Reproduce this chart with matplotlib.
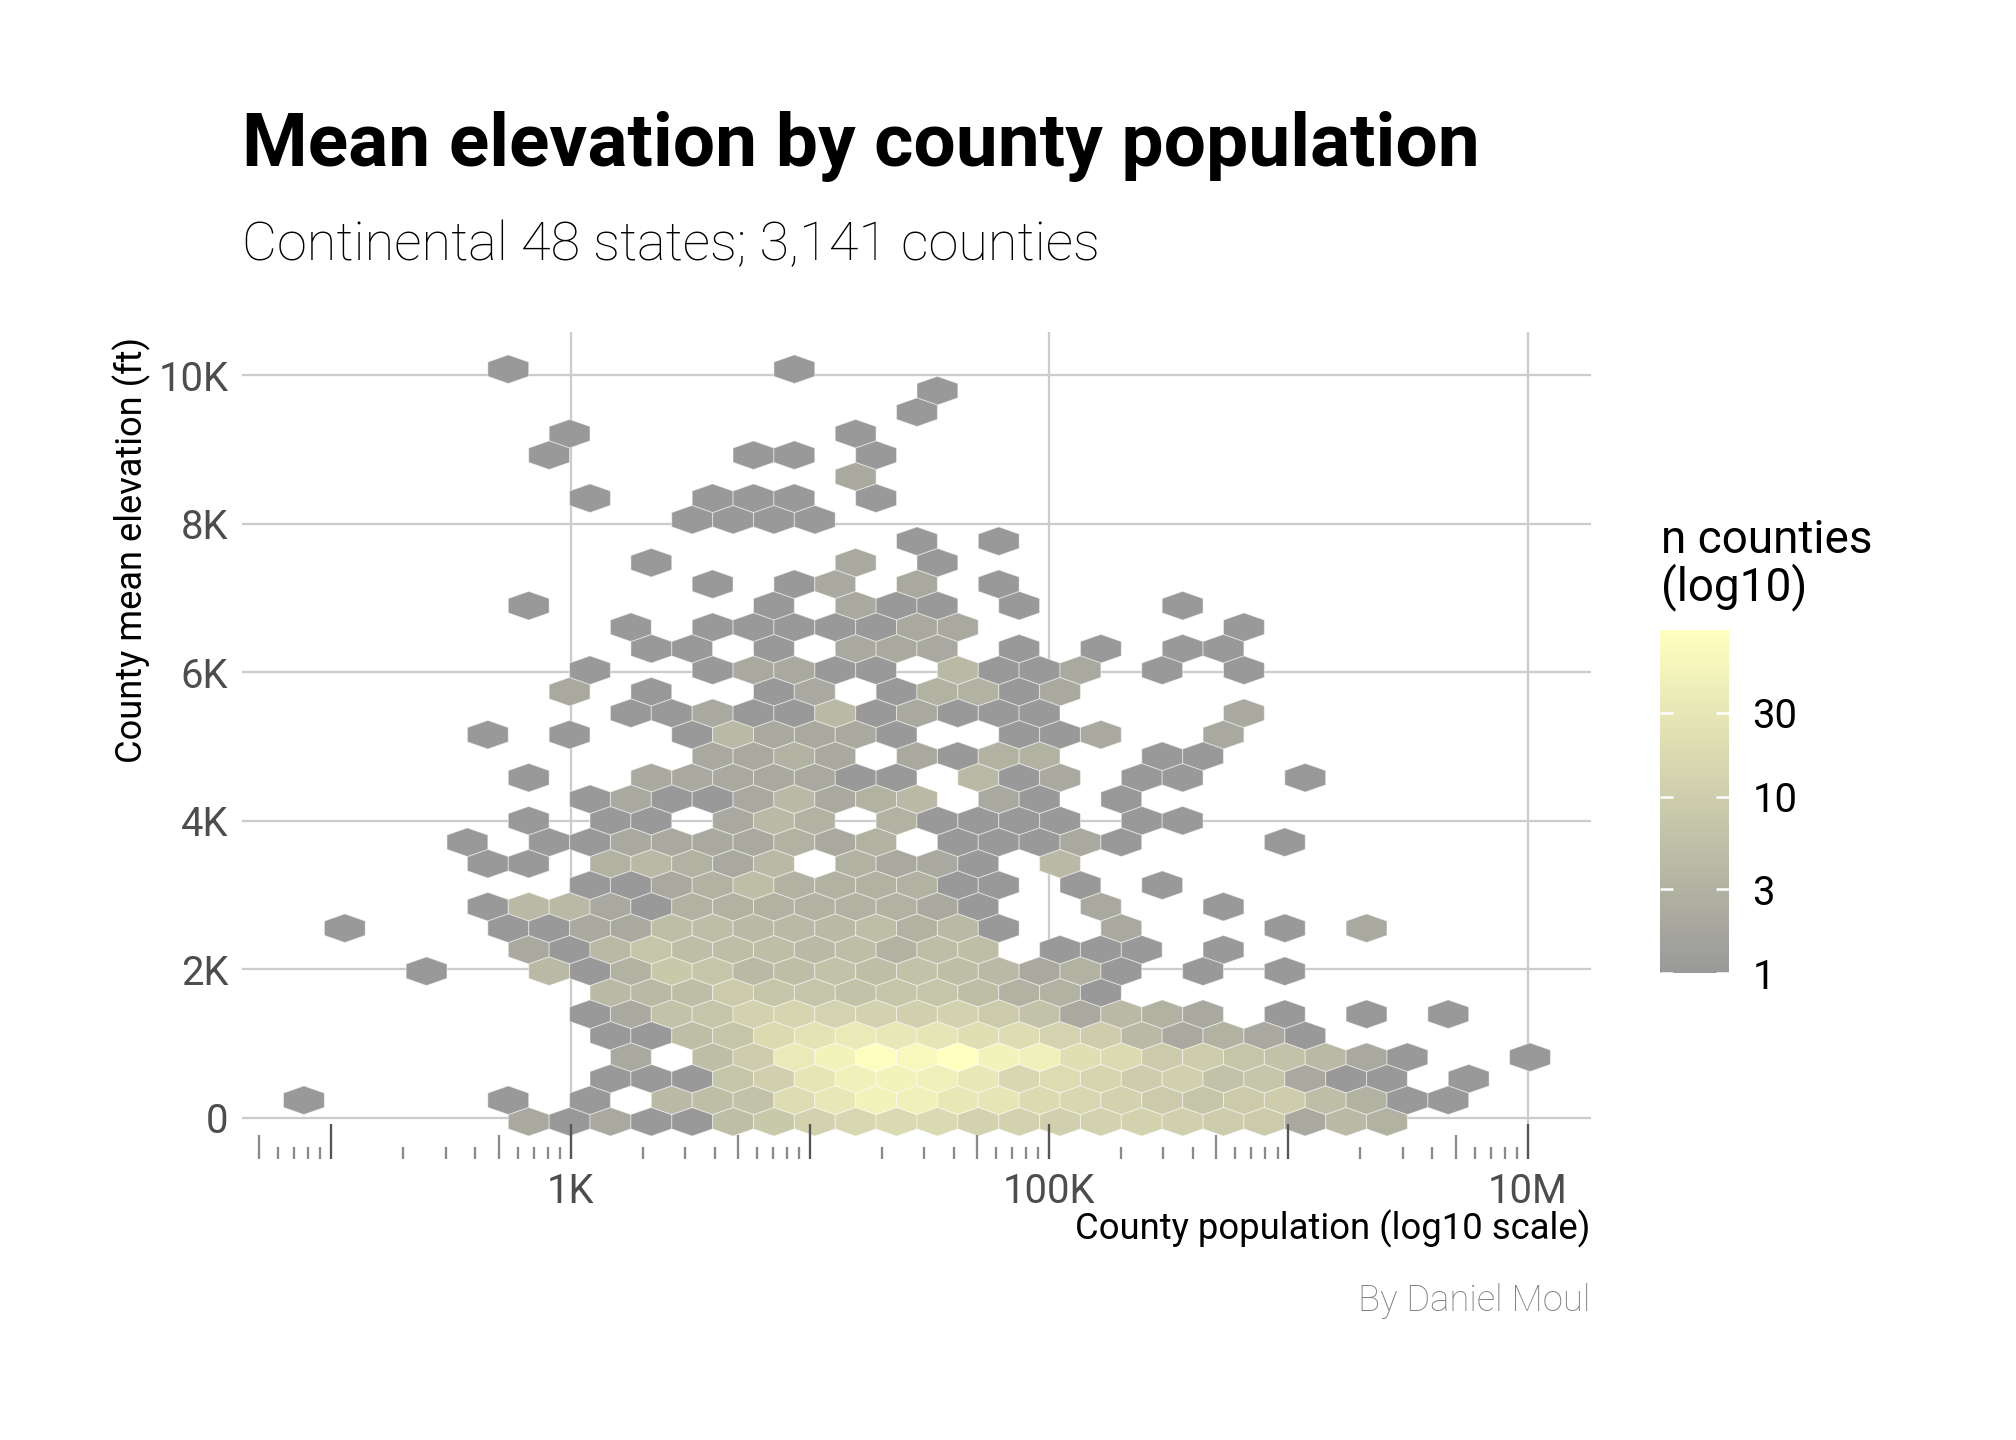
import numpy as np
import matplotlib
matplotlib.use("Agg")
import matplotlib.pyplot as plt
from matplotlib.colors import LogNorm, LinearSegmentedColormap
from matplotlib.transforms import blended_transform_factory

# ---------------- data: hex cells ----------------
# one entry per hex row: centre elevation (ft), centre log10(population) of each cell, counties per cell
row_elev_ft = [-54, 236, 525, 815, 1104, 1394, 1684, 1973, 2263, 2552, 2842, 3132,
               3421, 3711, 4000, 4290, 4580, 4869, 5159, 5448, 5738, 6028, 6317, 6607,
               6896, 7186, 7476, 7765, 8055, 8344, 8634, 8924, 9213, 9503, 9792, 10082]

row_pop_log10 = [
    [2.825, 2.995, 3.166, 3.337, 3.508, 3.679, 3.849, 4.020, 4.191, 4.362, 4.533, 4.704, 4.874, 5.045, 5.216, 5.387, 5.558, 5.728, 5.899, 6.070, 6.241, 6.412],
    [1.885, 2.739, 3.081, 3.422, 3.593, 3.764, 3.935, 4.106, 4.276, 4.447, 4.618, 4.789, 4.960, 5.131, 5.301, 5.472, 5.643, 5.814, 5.985, 6.156, 6.326, 6.497, 6.668],
    [3.166, 3.337, 3.508, 3.679, 3.849, 4.020, 4.191, 4.362, 4.533, 4.704, 4.874, 5.045, 5.216, 5.387, 5.558, 5.728, 5.899, 6.070, 6.241, 6.412, 6.753],
    [3.252, 3.593, 3.764, 3.935, 4.106, 4.276, 4.447, 4.618, 4.789, 4.960, 5.131, 5.301, 5.472, 5.643, 5.814, 5.985, 6.156, 6.326, 6.497, 7.010],
    [3.166, 3.337, 3.508, 3.679, 3.849, 4.020, 4.191, 4.362, 4.533, 4.704, 4.874, 5.045, 5.216, 5.387, 5.558, 5.728, 5.899, 6.070],
    [3.081, 3.252, 3.422, 3.593, 3.764, 3.935, 4.106, 4.276, 4.447, 4.618, 4.789, 4.960, 5.131, 5.301, 5.472, 5.643, 5.985, 6.326, 6.668],
    [3.166, 3.337, 3.508, 3.679, 3.849, 4.020, 4.191, 4.362, 4.533, 4.704, 4.874, 5.045, 5.216],
    [2.397, 2.910, 3.081, 3.252, 3.422, 3.593, 3.764, 3.935, 4.106, 4.276, 4.447, 4.618, 4.789, 4.960, 5.131, 5.301, 5.643, 5.985],
    [2.825, 2.995, 3.166, 3.337, 3.508, 3.679, 3.849, 4.020, 4.191, 4.362, 4.533, 4.704, 5.045, 5.216, 5.387, 5.728],
    [2.056, 2.739, 2.910, 3.081, 3.252, 3.422, 3.593, 3.764, 3.935, 4.106, 4.276, 4.447, 4.618, 4.789, 5.301, 5.985, 6.326],
    [2.654, 2.825, 2.995, 3.166, 3.337, 3.508, 3.679, 3.849, 4.020, 4.191, 4.362, 4.533, 4.704, 5.216, 5.728],
    [3.081, 3.252, 3.422, 3.593, 3.764, 3.935, 4.106, 4.276, 4.447, 4.618, 4.789, 5.131, 5.472],
    [2.654, 2.825, 3.166, 3.337, 3.508, 3.679, 3.849, 4.191, 4.362, 4.533, 4.704, 5.045],
    [2.568, 2.910, 3.081, 3.252, 3.422, 3.593, 3.764, 3.935, 4.106, 4.276, 4.618, 4.789, 4.960, 5.131, 5.301, 5.985],
    [2.825, 3.166, 3.337, 3.679, 3.849, 4.020, 4.362, 4.533, 4.704, 4.874, 5.045, 5.387, 5.558],
    [3.081, 3.252, 3.422, 3.593, 3.764, 3.935, 4.106, 4.276, 4.447, 4.789, 4.960, 5.301],
    [2.825, 3.337, 3.508, 3.679, 3.849, 4.020, 4.191, 4.362, 4.704, 4.874, 5.045, 5.387, 5.558, 6.070],
    [3.593, 3.764, 3.935, 4.106, 4.447, 4.618, 4.789, 4.960, 5.472, 5.643],
    [2.654, 2.995, 3.508, 3.679, 3.849, 4.020, 4.191, 4.362, 4.874, 5.045, 5.216, 5.728],
    [3.252, 3.422, 3.593, 3.764, 3.935, 4.106, 4.276, 4.447, 4.618, 4.789, 4.960, 5.814],
    [2.995, 3.337, 3.849, 4.020, 4.362, 4.533, 4.704, 4.874, 5.045],
    [3.081, 3.593, 3.764, 3.935, 4.106, 4.276, 4.618, 4.789, 4.960, 5.131, 5.472, 5.814],
    [3.337, 3.508, 3.849, 4.191, 4.362, 4.533, 4.874, 5.216, 5.558, 5.728],
    [3.252, 3.593, 3.764, 3.935, 4.106, 4.276, 4.447, 4.618, 5.814],
    [2.825, 3.849, 4.191, 4.362, 4.533, 4.874, 5.558],
    [3.593, 3.935, 4.106, 4.447, 4.789],
    [3.337, 4.191, 4.533],
    [4.447, 4.789],
    [3.508, 3.679, 3.849, 4.020],
    [3.081, 3.593, 3.764, 3.935, 4.276],
    [4.191],
    [2.910, 3.764, 3.935, 4.276],
    [2.995, 4.191],
    [4.447],
    [4.533],
    [2.739, 3.935],
]

row_counts = [
    [2, 1, 2, 1, 1, 5, 8, 12, 15, 17, 17, 12, 12, 11, 12, 12, 11, 10, 9, 2, 4, 3],
    [1, 1, 1, 4, 5, 6, 20, 30, 50, 45, 32, 28, 18, 15, 12, 9, 7, 9, 10, 5, 3, 1, 1],
    [1, 1, 1, 7, 11, 28, 45, 50, 45, 32, 15, 19, 14, 10, 11, 6, 7, 2, 1, 1, 1],
    [2, 5, 10, 35, 50, 80, 65, 88, 50, 45, 22, 18, 9, 10, 7, 6, 4, 2, 1, 1],
    [1, 1, 5, 7, 18, 25, 35, 30, 28, 22, 20, 13, 10, 4, 2, 3, 2, 1],
    [1, 2, 6, 7, 12, 14, 13, 12, 11, 12, 9, 6, 2, 4, 3, 2, 1, 1, 1],
    [4, 4, 5, 9, 7, 7, 6, 7, 7, 5, 3, 3, 1],
    [1, 4, 1, 3, 8, 7, 4, 5, 6, 5, 6, 5, 4, 2, 3, 1, 1, 1],
    [2, 1, 4, 7, 5, 5, 5, 4, 5, 3, 5, 5, 1, 1, 1, 1],
    [1, 1, 1, 2, 2, 5, 5, 4, 4, 4, 5, 3, 4, 1, 2, 1, 2],
    [1, 4, 4, 2, 1, 3, 3, 3, 3, 3, 3, 2, 1, 2, 1],
    [1, 1, 2, 3, 5, 3, 3, 3, 3, 1, 1, 1, 1],
    [1, 1, 3, 4, 3, 2, 4, 3, 2, 2, 1, 4],
    [1, 1, 1, 2, 2, 2, 2, 3, 2, 3, 1, 1, 1, 2, 1, 1],
    [1, 1, 1, 2, 4, 3, 3, 1, 1, 1, 1, 1, 1],
    [1, 2, 1, 1, 2, 4, 2, 3, 4, 2, 1, 1],
    [1, 2, 2, 2, 2, 2, 1, 1, 4, 1, 2, 1, 1, 1],
    [2, 2, 3, 2, 2, 1, 3, 3, 1, 1],
    [1, 1, 1, 4, 2, 2, 2, 1, 1, 1, 2, 2],
    [1, 1, 2, 1, 1, 4, 1, 2, 1, 1, 1, 2],
    [2, 1, 1, 2, 1, 3, 3, 1, 2],
    [1, 1, 2, 2, 1, 1, 4, 1, 1, 2, 1, 1],
    [1, 1, 1, 2, 2, 2, 1, 1, 1, 1],
    [1, 1, 1, 1, 1, 1, 2, 2, 1],
    [1, 1, 2, 1, 1, 1, 1],
    [1, 1, 2, 2, 1],
    [1, 2, 1],
    [1, 1],
    [1, 1, 1, 1],
    [1, 1, 1, 1, 1],
    [2],
    [1, 1, 1, 1],
    [1, 1],
    [1],
    [1],
    [1, 1],
]

y_ticks = [0, 2000, 4000, 6000, 8000, 10000]
y_tick_labels = ["0", "2K", "4K", "6K", "8K", "10K"]
x_ticks = [1e3, 1e5, 1e7]
x_tick_labels = ["1K", "100K", "10M"]
legend_ticks = [1, 3, 10, 30]

# ---------------- flatten ----------------
pop, elev, n = [], [], []
for e, xs, cs in zip(row_elev_ft, row_pop_log10, row_counts):
    for xv, cv in zip(xs, cs):
        pop.append(10 ** xv)
        elev.append(e)
        n.append(cv)
pop = np.array(pop); elev = np.array(elev, dtype=float); n = np.array(n, dtype=float)

# ---------------- figure ----------------
W, H, DPI = 2016, 1440, 300
fig = plt.figure(figsize=(W / DPI, H / DPI), dpi=DPI)
fig.patch.set_facecolor("white")
FONT = "Roboto"

def fx(px):
    return px / W

def fy(py):
    return 1 - py / H

pl, pr, pt, pb = 241.7, 1590.7, 332.0, 1159.0
ax = fig.add_axes([fx(pl), fy(pb), fx(pr - pl), (pb - pt) / H])

cmap = LinearSegmentedColormap.from_list("greyyellow", ["#999999", "#FFFFC0"])
norm = LogNorm(vmin=1, vmax=n.max())

# hex lattice geometry (width in log10 units, row pitch in ft)
hx = 0.17082
hy = 579.2
x0 = 1.7996
y0 = -54.0
nx, ny = 31, 18
hb = ax.hexbin(pop, elev, C=n, reduce_C_function=np.sum, gridsize=(nx, ny),
               xscale="log", extent=(x0, x0 + nx * hx, y0, y0 + ny * hy),
               cmap=cmap, norm=norm, edgecolors=(1, 1, 1, 0.45), linewidths=0.25,
               zorder=2)

ax.set_xscale("log")
ax.set_xlim(10 ** 1.6249, 10 ** 7.2633)
ax.set_ylim(-556, 10583)

for s in ax.spines.values():
    s.set_visible(False)
ax.set_axisbelow(True)
ax.set_xticks(x_ticks)
ax.set_xticklabels(x_tick_labels)
ax.xaxis.set_minor_locator(matplotlib.ticker.NullLocator())
ax.set_yticks(y_ticks)
ax.set_yticklabels(y_tick_labels)
ax.grid(True, color="#cccccc", linewidth=0.55, zorder=0)
ax.tick_params(axis="both", length=0, labelsize=9.6, labelcolor="#4d4d4d", pad=3.2)
for lab in ax.get_xticklabels() + ax.get_yticklabels():
    lab.set_fontfamily(FONT)

# log ticks along the bottom (annotation_logticks style)
trans = blended_transform_factory(ax.transData, ax.transAxes)
ph = pb - pt
xl = ax.get_xlim()
for k in range(1, 8):
    for d in range(1, 10):
        v = d * 10 ** k
        if v < xl[0] or v > xl[1]:
            continue
        if d == 1:
            L, col = 35.4 / ph, "#555555"
        elif d == 5:
            L, col = 23.6 / ph, "#8a8a8a"
        else:
            L, col = 11.8 / ph, "#8a8a8a"
        ax.plot([v, v], [0, L], transform=trans, color=col, lw=0.55,
                solid_capstyle="butt", zorder=3, clip_on=False)

# ---------------- text ----------------
fig.text(fx(241.7), fy(146), "Mean elevation by county population", fontsize=18,
         fontweight="bold", family=FONT, ha="left", va="center", color="black")
fig.text(fx(241.7), fy(245), "Continental 48 states; 3,141 counties", fontsize=13,
         fontweight="light", family=FONT, ha="left", va="center", color="black")
fig.text(fx(132), fy(337), "County mean elevation (ft)", fontsize=8.7, family=FONT,
         rotation=90, ha="center", va="top", color="black")
fig.text(fx(1590.7), fy(1229), "County population (log10 scale)", fontsize=8.75,
         family=FONT, ha="right", va="center", color="black")
fig.text(fx(1590.7), fy(1301), "By Daniel Moul", fontsize=8.75, family=FONT,
         fontweight="light", ha="right", va="center", color="#808080")

# ---------------- legend (colorbar) ----------------
fig.text(fx(1661), fy(540), "n counties", fontsize=11, family=FONT, ha="left",
         va="center", color="black")
fig.text(fx(1661), fy(587), "(log10)", fontsize=11, family=FONT, ha="left",
         va="center", color="black")
cax = fig.add_axes([fx(1660), fy(973.3), fx(69.3), 343.3 / H])
cb = fig.colorbar(hb, cax=cax)
cb.outline.set_visible(False)
cb.set_ticks(legend_ticks)
cb.set_ticklabels([str(t) for t in legend_ticks])
cb.minorticks_off()
cax.tick_params(which="both", left=True, right=True, labelleft=False, labelright=True,
                direction="in", color="white", length=3.1, width=0.6, pad=5.5,
                labelsize=9.6, labelcolor="black")
for lab in cax.get_yticklabels():
    lab.set_fontfamily(FONT)

fig.savefig("out.png", dpi=DPI, facecolor="white")
